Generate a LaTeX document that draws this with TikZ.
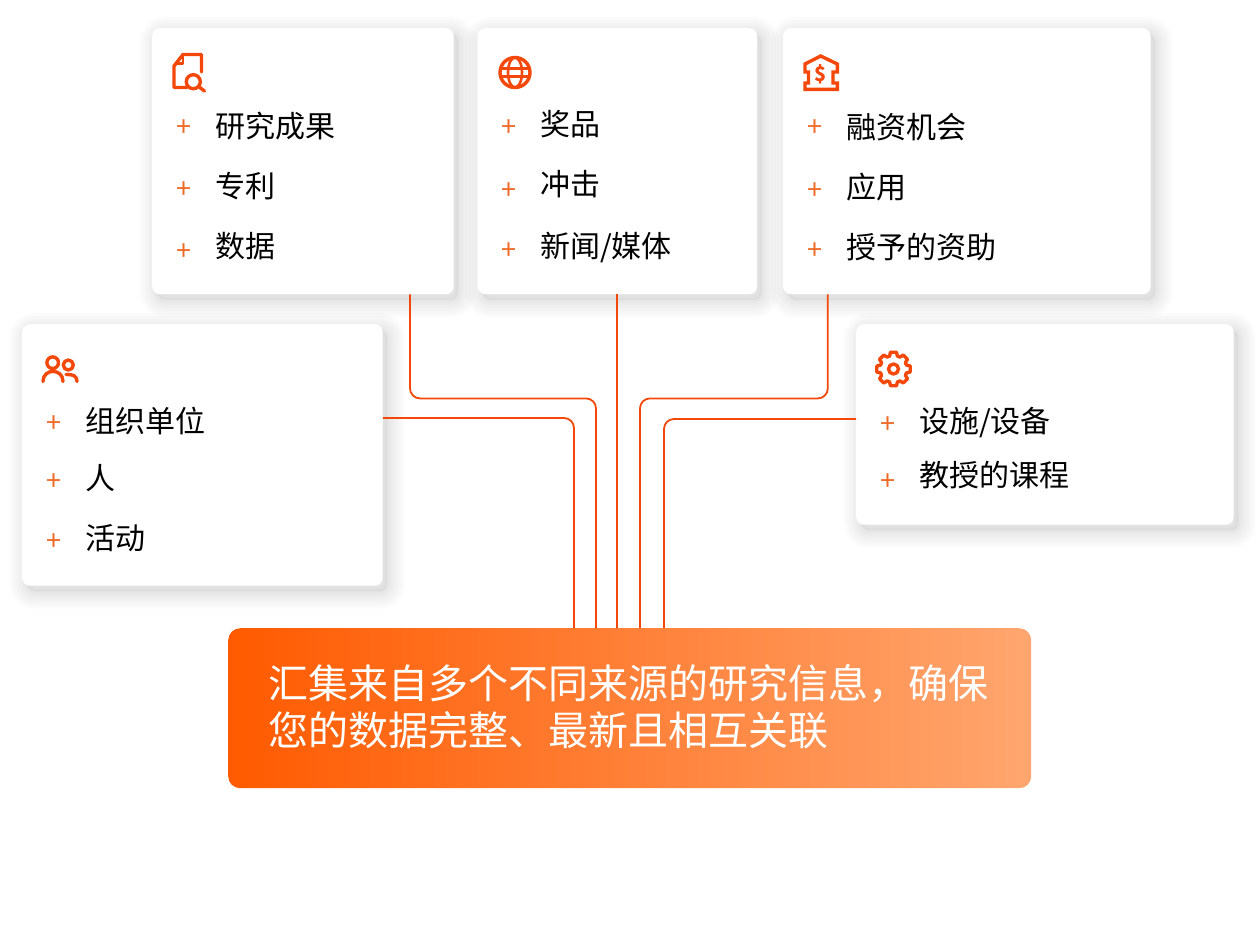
\documentclass[tikz,border=0pt]{standalone}
\usepackage{fontspec}
\setmainfont{Noto Sans CJK SC}
\usetikzlibrary{positioning,calc}
\definecolor{linkred}{HTML}{F4470A}
\definecolor{plusorange}{HTML}{EE6A26}
\definecolor{hubleft}{HTML}{FF5A00}
\definecolor{hubright}{HTML}{FFA66F}
\begin{document}
\begin{tikzpicture}[x=1pt,y=-1pt]
\tikzset{
softlayer/.style={preaction={draw=black,draw opacity=.014,line width=#1,transform canvas={shift={(5pt,-6pt)}}}},
softband/.style={preaction={fill=black,fill opacity=.045,transform canvas={shift={(5pt,-6pt)}}}},
card/.style={%
anchor=north west,
inner sep=0pt,
rounded corners=8pt,
softlayer=34pt,softlayer=28pt,softlayer=22pt,softlayer=16pt,softlayer=10pt,softlayer=5pt,softband,
fill=white
},
item/.style={inner sep=0pt,text height=26.4pt,text depth=3.6pt,font=\fontsize{30}{30}\selectfont},
plusmark/.style={inner sep=0pt,minimum size=20pt,text height=20pt,text depth=0pt,text=plusorange,font=\fontsize{27}{27}\selectfont},
link/.style={draw=linkred,line width=1.8pt,rounded corners=10pt},
icon/.style={draw=linkred,line width=3.4pt,line join=round,line cap=round}
}
\useasboundingbox (0,0) rectangle (1260,946);
   % cards
   \node[card,minimum width=301.5pt,minimum height=266pt] (research) at (152,28) {};
   \node[card,minimum width=279.5pt,minimum height=266pt,right=23.5pt of research] (awards) {};
   \node[card,minimum width=367.5pt,minimum height=266pt,right=25.5pt of awards] (funding) {};
   \node[card,minimum width=360.5pt,minimum height=261.5pt] (orgs) at (22,324) {};
   \node[card,minimum width=377.5pt,minimum height=200.5pt] (facilities) at (856,324) {};
   \node[minimum width=803pt,minimum height=160pt,inner sep=0pt,anchor=north west,rounded corners=12pt,left color=hubleft,right color=hubright] (hub) at (228,628) {};
   \node[anchor=west,inner sep=0pt,align=left,text=white,yshift=1.5pt,font=\fontsize{40}{47}\selectfont] (hubtext) at ([xshift=40pt]hub.west) {汇集来自多个不同来源的研究信息，确保\\您的数据完整、最新且相互关联};

   % items
   \node[item,anchor=west] (research1) at (215,126) {研究成果};
   \node[item,below=29.6pt of research1.south west,anchor=north west] (research2) {专利};
   \node[item,below=29.6pt of research2.south west,anchor=north west] (research3) {数据};
   \node[item,anchor=west] (awards1) at (540,124) {奖品};
   \node[item,below=29.6pt of awards1.south west,anchor=north west] (awards2) {冲击};
   \node[item,anchor=west] (awards3) at (540,246) {新闻/媒体};
   \node[item,anchor=west] (funding1) at (846,127) {融资机会};
   \node[item,below=29.6pt of funding1.south west,anchor=north west] (funding2) {应用};
   \node[item,below=29.6pt of funding2.south west,anchor=north west] (funding3) {授予的资助};
   \node[item,anchor=west] (orgs1) at (85,421) {组织单位};
   \node[item,anchor=west] (orgs2) at (85,478.5) {人};
   \node[item,below=29.6pt of orgs2.south west,anchor=north west] (orgs3) {活动};
   \node[item,anchor=west] (facilities1) at (919,421.5) {设施/设备};
   \node[item,anchor=west] (facilities2) at (919,475) {教授的课程};

   % plus marks
   \node[plusmark] (p1) at (184,126) {+};
   \node[plusmark,below=42pt of p1] (p2) {+};
   \node[plusmark,below=42pt of p2] (p3) {+};
   \node[plusmark] (p4) at (509,126) {+};
   \node[plusmark,below=43pt of p4] (p5) {+};
   \node[plusmark,below=40pt of p5] (p6) {+};
   \node[plusmark] (p7) at (815,126) {+};
   \node[plusmark,below=43pt of p7] (p8) {+};
   \node[plusmark,below=40pt of p8] (p9) {+};
   \node[plusmark] (p10) at (54,422) {+};
   \node[plusmark,below=38pt of p10] (p11) {+};
   \node[plusmark,below=40pt of p11] (p12) {+};
   \node[plusmark] (p13) at (888,423) {+};
   \node[plusmark,below=37pt of p13] (p14) {+};

   % connectors
   \coordinate (in1) at (574,628);
   \coordinate (in2) at (596,628);
   \coordinate (in3) at (617,628);
   \coordinate (in4) at (640,628);
   \coordinate (in5) at (664,628);
   \draw[link] (orgs.east |- 0,418) -| (in1);
   \draw[link] ([xshift=258pt]research.south west) -- ++(0,104) -| (in2);
   \draw[link] (awards.south -| in3) -- (in3);
   \draw[link] ([xshift=45pt]funding.south west) -- ++(0,104) -| (in4);
   \draw[link] (facilities.west |- 0,419) -| (in5);

   % icons
   \draw[icon] (187,87.5) -- (174,87.5) -- (174,66) -- (183,54.5) -- (201.5,54.5) -- (201.5,72);
   \draw[icon,line width=2.4pt] (183,55) -- (183,63.5) -- (176,63.5);
   \draw[icon] (193.3,81.7) circle (7);
   \draw[icon] (198.5,86.5) -- (204.5,91);
   \draw[icon] (515,72.5) circle (15);
   \draw[icon,line width=2.6pt] (515,72.5) ellipse (7 and 15);
   \draw[icon,line width=2.6pt] (501,68.5) -- (529,68.5);
   \draw[icon,line width=2.6pt] (501,76.5) -- (529,76.5);
   \draw[icon,line cap=butt,line join=miter] (820.7,56) -- (837.3,64) -- (837.3,72) -- (833,72) -- (833,83) -- (837.3,83) -- (837.3,89.3) -- (805,89.3) -- (805,83) -- (808.5,83) -- (808.5,72) -- (805,72) -- (805,64) -- cycle;
   \node[inner sep=0pt,text=linkred,font=\fontsize{20}{20}\bfseries\selectfont] (bankdollar) at (820.7,74) {\$};
   \draw[icon] (52.7,362.7) circle (5.8);
   \draw[icon] (43,381.5) .. controls (43,368) and (63,368) .. (63,381.5);
   \draw[icon] (68.3,365) circle (5);
   \draw[icon] (66,374.5) .. controls (73,374) and (77,376) .. (77,381.5);
   \draw[icon] (893.5,369) circle (5);
   \foreach \a in {0,45,...,315}
      \draw[icon] ($(893.5,369)+(\a-10:17)$) -- ($(893.5,369)+(\a+10:17)$) -- ($(893.5,369)+(\a+17:13.5)$) -- ($(893.5,369)+(\a+28:13.5)$) -- ($(893.5,369)+(\a+35:17)$);
\end{tikzpicture}
\end{document}
